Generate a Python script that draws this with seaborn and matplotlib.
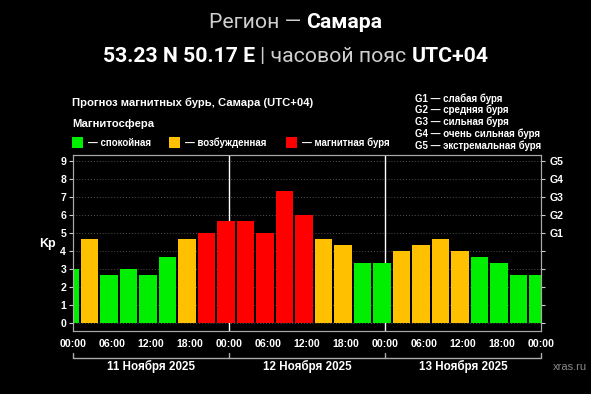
import numpy as np
import pandas as pd
import matplotlib
matplotlib.use("Agg")
import matplotlib.pyplot as plt
import seaborn as sns
from matplotlib.patches import Rectangle
from matplotlib.lines import Line2D

# ---------------- data ----------------
hours = [-0.45, 2.55, 5.55, 8.55, 11.55, 14.55, 17.55, 20.55, 23.55, 26.55, 29.55, 32.55, 35.55,
         38.55, 41.55, 44.55, 47.55, 50.55, 53.55, 56.55, 59.55, 62.55, 65.55, 68.55, 71.55]
kp = [3.0, 4.67, 2.67, 3.0, 2.67, 3.67, 4.67, 5.0, 5.67, 5.67, 5.0, 7.33, 6.0,
      4.67, 4.33, 3.33, 3.33, 4.0, 4.33, 4.67, 4.0, 3.67, 3.33, 2.67, 2.67]
status_names = ["спокойная", "возбужденная", "магнитная буря"]
status_colors = ["#00ee00", "#ffc000", "#ff0000"]
tick_hours = [0, 6, 12, 18, 24, 30, 36, 42, 48, 54, 60, 66, 72]
tick_labels = ["00:00", "06:00", "12:00", "18:00", "00:00", "06:00", "12:00", "18:00",
               "00:00", "06:00", "12:00", "18:00", "00:00"]
day_labels = ["11 Ноября 2025", "12 Ноября 2025", "13 Ноября 2025"]
day_bounds = [0, 24, 48, 72]
g_labels = ["G1", "G2", "G3", "G4", "G5"]
g_desc = ["G1 — слабая буря", "G2 — средняя буря", "G3 — сильная буря",
          "G4 — очень сильная буря", "G5 — экстремальная буря"]

def classify(v):
    if v < 4:
        return status_names[0]
    if v < 5:
        return status_names[1]
    return status_names[2]

df = pd.DataFrame({"hour": hours, "kp": kp})
df["status"] = [classify(v) for v in kp]

# ---------------- figure ----------------
sns.set_style("dark")
plt.rcParams["font.family"] = ["Liberation Sans", "DejaVu Sans"]
W, H = 591, 394
fig = plt.figure(figsize=(W / 100, H / 100), dpi=100, facecolor="black")
ax = fig.add_axes([73 / W, 1 - 331 / H, (541 - 73) / W, (331 - 155) / H])
ax.set_facecolor("black")

# grid
for yv in range(0, 10):
    ax.axhline(yv, color="#505050", lw=0.7, ls=(0, (1, 2)), zorder=0)
# day separators
for d in day_bounds[1:-1]:
    ax.axvline(d, color="white", lw=1.0, zorder=0.5)

sns.barplot(data=df, x="hour", y="kp", hue="status", hue_order=status_names,
            palette=dict(zip(status_names, status_colors)), native_scale=True,
            width=0.885, dodge=False, errorbar=None, legend=False,
            linewidth=0, saturation=1, ax=ax, zorder=2)

ax.set_xlim(day_bounds[0], day_bounds[-1])
ax.set_ylim(-0.45, 9.35)
ax.set_xlabel("")
ax.set_ylabel("")
ax.grid(False)

tick_font = dict(color="white", fontsize=7.6, fontweight="bold")
ax.set_xticks(tick_hours)
ax.set_xticklabels(tick_labels, **tick_font)
ax.set_xticks([h for h in range(3, 72, 6)], minor=True)
ax.set_yticks(range(0, 10))
ax.set_yticklabels([str(i) for i in range(0, 10)], **tick_font)
ax.tick_params(axis="both", which="both", colors="#cccccc", length=3, width=0.8,
               pad=2, labelcolor="white", direction="out")
ax.tick_params(axis="x", which="major", pad=2.5)

for s in ax.spines.values():
    s.set_color("#aaaaaa")
    s.set_linewidth(0.8)
    s.set_visible(True)

ax2 = ax.twinx()
ax2.set_ylim(ax.get_ylim())
ax2.set_yticks(range(0, 10))
ax2.set_yticklabels([""] * 5 + g_labels, **tick_font)
ax2.tick_params(axis="y", colors="#cccccc", length=3, width=0.8, pad=3, labelcolor="white")
ax2.grid(False)
for s in ax2.spines.values():
    s.set_color("#aaaaaa")
    s.set_linewidth(0.8)

ax.text(-(73 - 47) / 468, 4.4, "Kp", transform=ax.get_yaxis_transform(), color="white",
        fontsize=9, fontweight="bold", ha="center", va="center")

# day bracket
trans = ax.get_xaxis_transform()
yb = -(358 - 331) / 176
ax.add_line(Line2D([day_bounds[0], day_bounds[-1]], [yb, yb], transform=trans,
                   color="#aaaaaa", lw=1.0, clip_on=False))
for d in day_bounds:
    ax.add_line(Line2D([d, d], [yb, yb + 5 / 176], transform=trans,
                       color="#aaaaaa", lw=1.0, clip_on=False))
for i, lab in enumerate(day_labels):
    ax.text((day_bounds[i] + day_bounds[i + 1]) / 2, -(366 - 331) / 176, lab,
            transform=trans, color="white", fontsize=8.4, fontweight="bold",
            ha="center", va="center")
fig.text(570 / W, 1 - 367 / H, "xras.ru", color="#8a8a8a", fontsize=8,
         ha="center", va="center")

# ---------------- titles ----------------
renderer = fig.canvas.get_renderer()

def rich_line(pieces, xc, y, size, family):
    texts = []
    for s, w, c in pieces:
        t = fig.text(0, y, s, fontsize=size, fontweight=w, color=c, va="center",
                     ha="left", family=family)
        texts.append(t)
    widths = [t.get_window_extent(renderer).width for t in texts]
    total = sum(widths)
    x = xc * W - total / 2
    for t, wd in zip(texts, widths):
        t.set_x(x / W)
        x += wd

rich_line([("Регион — ", "normal", "#cfcfcf"), ("Самара", "bold", "white")],
          0.5, 1 - 23 / H, 15.3, ["Roboto", "DejaVu Sans"])
rich_line([("53.23 N 50.17 E ", "bold", "white"), ("| часовой пояс ", "normal", "#cfcfcf"),
           ("UTC+04", "bold", "white")],
          0.5, 1 - 57 / H, 15.3, ["Roboto", "DejaVu Sans"])

fig.text(72 / W, 1 - 103 / H, "Прогноз магнитных бурь, Самара (UTC+04)", color="white",
         fontsize=8.1, fontweight="bold", va="center", ha="left")
fig.text(72 / W, 1 - 124 / H, "Магнитосфера", color="white",
         fontsize=8.1, fontweight="bold", va="center", ha="left")

sq_x = [72, 169, 286]
for x0, name, col in zip(sq_x, status_names, status_colors):
    fig.patches.append(Rectangle((x0 / W, 1 - 148 / H), 11 / W, 11 / H,
                                 transform=fig.transFigure, facecolor=col,
                                 edgecolor="none"))
    fig.text((x0 + 16) / W, 1 - 142.5 / H, "— " + name, color="white", fontsize=7,
             fontweight="bold", va="center", ha="left")

for i, s in enumerate(g_desc):
    fig.text(415 / W, 1 - (98.5 + i * 11.7) / H, s, color="white", fontsize=7,
             fontweight="bold", va="center", ha="left")

fig.savefig("out.png", dpi=100, facecolor="black")
